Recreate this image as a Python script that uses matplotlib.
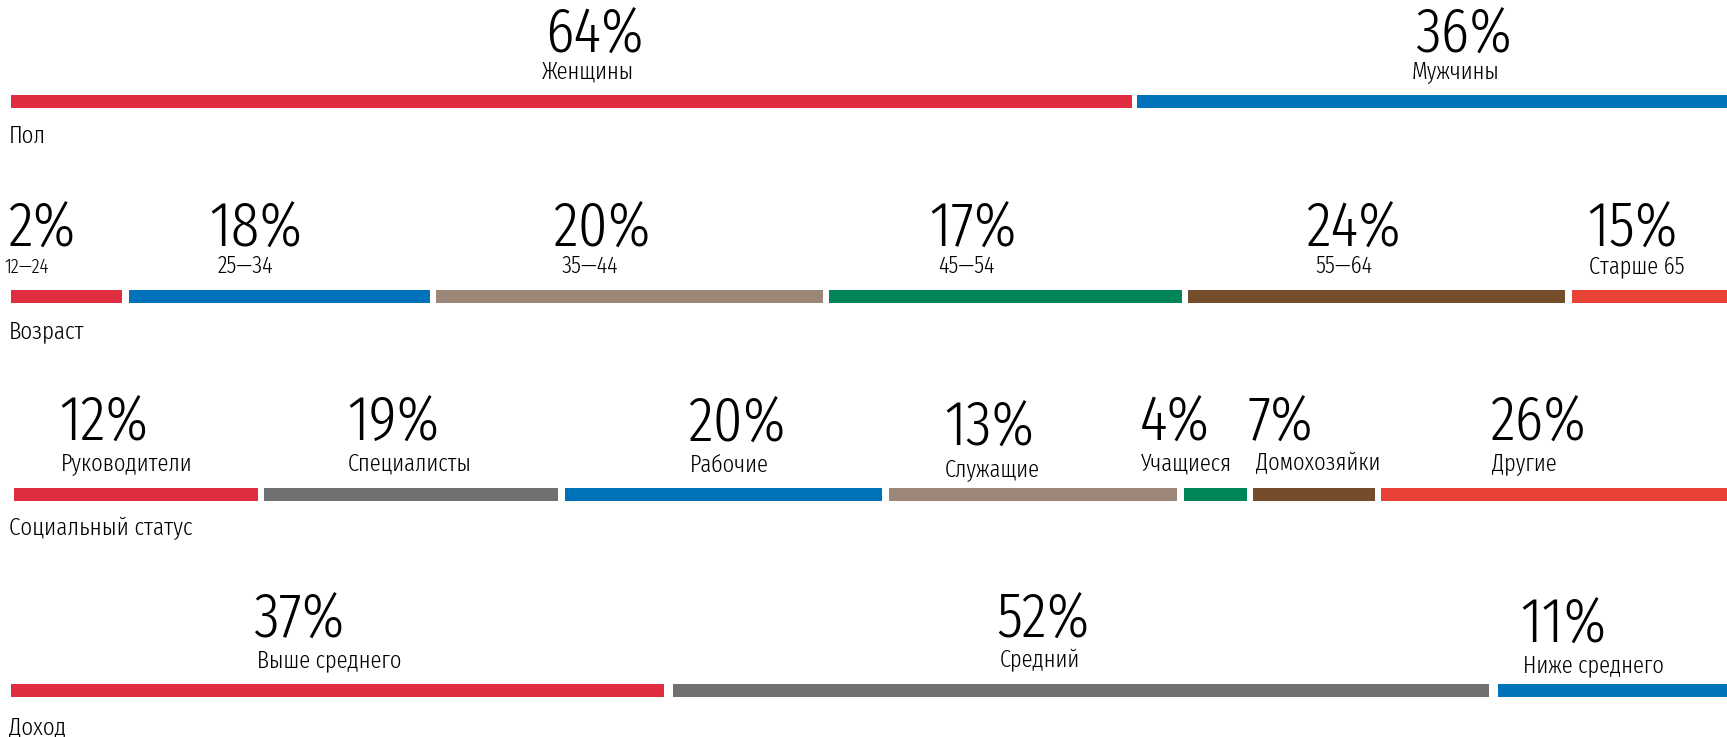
import matplotlib.pyplot as plt

plt.rcParams['font.family'] = ['Fira Sans Extra Condensed', 'DejaVu Sans']
plt.rcParams['font.weight'] = 300

# Data (bar lengths, in canvas units of 1568 across)
sex_pct = [64, 36]
sex_labels = ['Женщины', 'Мужчины']
sex_len = [1018, 573]

age_pct = [2, 18, 20, 17, 24, 15]
age_labels = ['12—24', '25—34', '35—44', '45—54', '55—64', 'Старше 65']
age_len = [101, 273, 351, 320, 342, 330]

status_pct = [12, 19, 20, 13, 4, 7, 26]
status_labels = ['Руководители', 'Специалисты', 'Рабочие', 'Служащие',
                 'Учащиеся', 'Домохозяйки', 'Другие']
status_len = [221, 267, 288, 262, 57, 110, 400]

income_pct = [37, 52, 11]
income_labels = ['Выше среднего', 'Средний', 'Ниже среднего']
income_len = [593, 741, 300]

# Styles
RED = '#E12D40'
BLUE = '#0072BB'
TAUPE = '#9C8677'
GREEN = '#00845A'
BROWN = '#764D2B'
ORANGE = '#E84236'
GREY = '#6F7072'
PCT_SIZE = 46
LAB_SIZE = 17.6


def draw_row(ax, y_bar, x0, lengths, colors, pcts, labels, text_x, lab_dx,
             y_pct, y_lab, title, y_title, gap=6, dy=None, lab_size=None):
    left = x0
    for i, L in enumerate(lengths):
        ax.barh(y_bar, L, left=left, height=12, color=colors[i], align='edge')
        left += L + gap
    for i, (p, lab) in enumerate(zip(pcts, labels)):
        d = dy[i] if dy else 0
        ax.text(text_x[i], y_pct + d, f'{p}%', fontsize=PCT_SIZE,
                va='baseline', ha='left', color='black')
        ls = lab_size[i] if lab_size else LAB_SIZE
        ax.text(text_x[i] + lab_dx[i], y_lab + d, lab, fontsize=ls,
                va='baseline', ha='left', color='black')
    ax.text(8, y_title, title, fontsize=18, va='baseline', ha='left')


fig = plt.figure(figsize=(17.27, 7.37), dpi=100)
ax = fig.add_axes([0, 0, 1, 1])
ax.set_xlim(0, 1568)
ax.set_ylim(669, 0)
ax.axis('off')

draw_row(ax, 86, 10, sex_len, [RED, BLUE], sex_pct, sex_labels,
         [495, 1285], [-3, -3], 48, 71, 'Пол', 130, gap=4)

draw_row(ax, 263, 10, age_len, [RED, BLUE, TAUPE, GREEN, BROWN, ORANGE],
         age_pct, age_labels, [7, 190, 502, 844, 1186, 1441],
         [-3, 8, 8, 8, 8, 2], 224, 248, 'Возраст', 307,
         lab_size=[14.5, LAB_SIZE, LAB_SIZE, LAB_SIZE, LAB_SIZE, LAB_SIZE])

draw_row(ax, 443, 13, status_len,
         [RED, GREY, BLUE, TAUPE, GREEN, BROWN, ORANGE],
         status_pct, status_labels, [54, 315, 625, 857, 1035, 1133, 1353],
         [1, 1, 1, 1, 1, 7, 2], 400, 427, 'Социальный статус', 486,
         dy=[0, 0, 1, 5, 0, 0, 0])

draw_row(ax, 621, 10, income_len, [RED, GREY, BLUE], income_pct,
         income_labels, [230, 905, 1380], [3, 3, 3], 579, 606, 'Доход', 666,
         gap=8, dy=[0, 0, 4])

fig.savefig('out.png', dpi=100)
